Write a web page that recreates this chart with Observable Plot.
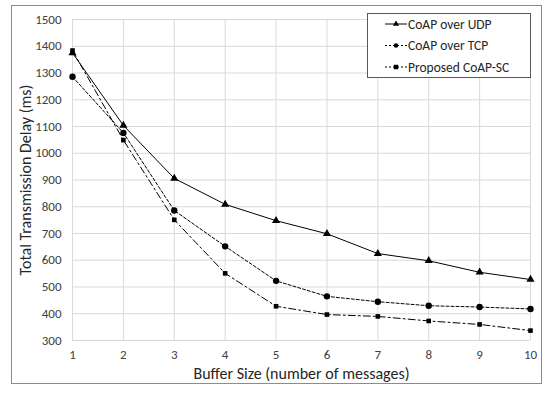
<!DOCTYPE html>
<html><head><meta charset="utf-8">
<script src="https://cdn.jsdelivr.net/npm/d3@7"></script>
<script src="https://cdn.jsdelivr.net/npm/@observablehq/plot@0.6"></script>
<style>
body{margin:0;background:#fff;font-family:Carlito,Lato,"Open Sans",sans-serif;}
#wrap{position:relative;width:550px;height:393px;}
#border{position:absolute;left:11px;top:5px;width:531px;height:379px;border:1px solid #8c8c8c;box-sizing:border-box;}
#chart{position:absolute;left:0;top:0;}
#legend{position:absolute;left:367px;top:13px;}
</style></head>
<body>
<div id="wrap"><div id="border"></div><div id="chart"></div><div id="legend"></div></div>
<script>
const bufferSize = [1,2,3,4,5,6,7,8,9,10];
const udp = [1375,1104,906,809,748,699,625,598,555,528];
const tcp = [1286,1076,786,652,523,465,445,430,425,418];
const sc  = [1384,1049,751,551,428,397,390,373,360,337];
const seriesNames = ["CoAP over UDP","CoAP over TCP","Proposed CoAP-SC"];
const yTicks = [300,400,500,600,700,800,900,1000,1100,1200,1300,1400,1500];

const styles = {
  "CoAP over UDP": {dash:null, symbol:"triangle", r:3.0, lg:16},
  "CoAP over TCP": {dash:"3,2", symbol:"circle", r:3.2, lg:16},
  "Proposed CoAP-SC": {dash:"7,3,2,3", symbol:"square", r:2.6, lg:20}
};
const all = [udp,tcp,sc];
const rows = [];
seriesNames.forEach((s,i)=>bufferSize.forEach((x,j)=>rows.push({series:s,x,y:all[i][j]})));

const font = "Carlito,Lato,'Open Sans',sans-serif";
const marks = [
  Plot.gridX(bufferSize,{stroke:"#d9d9d9",strokeOpacity:1}),
  Plot.gridY(yTicks,{stroke:"#d9d9d9",strokeOpacity:1}),
  Plot.axisX({ticks:bufferSize,tickSize:0,tickPadding:9,fontSize:13,fill:"#404040",label:null,tickFormat:"d"}),
  Plot.axisY({ticks:yTicks,tickSize:0,tickPadding:11,fontSize:13,fill:"#404040",label:null,tickFormat:"d"}),
  Plot.text(["Buffer Size (number of messages)"],{frameAnchor:"bottom",dy:27,fontSize:16,fill:"#262626",lineAnchor:"top"}),
  Plot.text(["Total Transmission Delay (ms)"],{frameAnchor:"left",textAnchor:"middle",dx:-47,rotate:-90,fontSize:16,fill:"#262626"})
];
seriesNames.forEach(s=>{
  const st = styles[s];
  const d = rows.filter(r=>r.series===s);
  marks.push(Plot.line(d,{x:"x",y:"y",stroke:"#000",strokeWidth:1,strokeDasharray:st.dash}));
  marks.push(Plot.dot(d,{x:"x",y:"y",fill:"#000",stroke:"none",symbol:st.symbol,r:st.r}));
});
const chart = Plot.plot({
  width:550,height:393,
  marginLeft:72,marginRight:20,marginTop:19,marginBottom:53,
  style:{fontFamily:font,background:"transparent"},
  x:{domain:[1,10]},
  y:{domain:[300,1500]},
  marks
});
document.getElementById("chart").appendChild(chart);

// legend
const lg = d3.select("#legend").append("svg").attr("width",164).attr("height",65);
lg.append("rect").attr("x",0.5).attr("y",0.5).attr("width",163).attr("height",64).attr("fill","#fff").attr("stroke","#595959");
const symMap = {triangle:d3.symbolTriangle,circle:d3.symbolCircle,square:d3.symbolSquare};
seriesNames.forEach((s,i)=>{
  const st = styles[s];
  const cy = 11 + i*21.5;
  lg.append("line").attr("x1",18).attr("x2",40).attr("y1",cy).attr("y2",cy).attr("stroke","#000").attr("stroke-dasharray",st.dash ? "2,2" : null);
  lg.append("path").attr("transform",`translate(29,${cy})`).attr("d",d3.symbol(symMap[st.symbol],st.lg)()).attr("fill","#000");
  lg.append("text").attr("x",41).attr("y",cy).attr("dy","0.35em").attr("font-size",13.5).attr("fill","#262626").attr("font-family",font).text(s);
});
</script>
</body></html>
